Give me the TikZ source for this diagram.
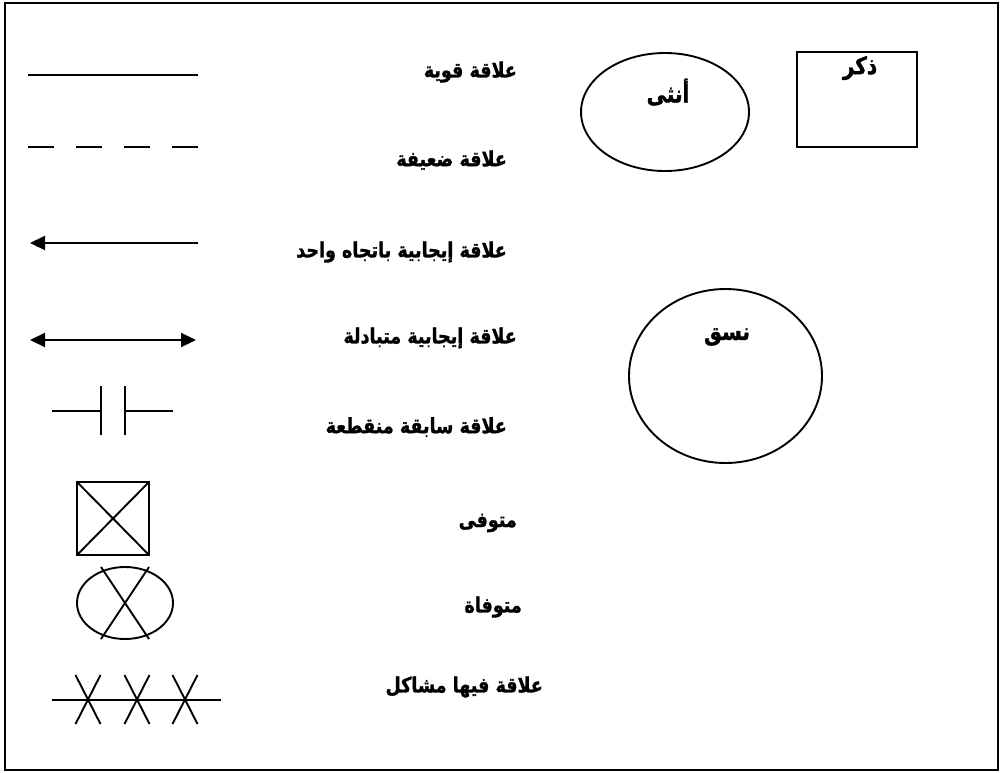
\documentclass[tikz,border=0pt]{standalone}
\usepackage{fontspec}
\usetikzlibrary{arrows.meta}
\TeXXeTstate=1
\newfontfamily\arabicfont[Script=Arabic,FakeBold=1.5]{DejaVu Sans Bold}
\newcommand{\artxt}[1]{\scalebox{1}[1.2]{\beginR #1\endR}}
\begin{document}
\begin{tikzpicture}[x=1pt,y=-1pt,
  ln/.style={line width=2.2pt},
  shp/.style={line width=1.9pt},
  lbl/.style={anchor=east,inner sep=0pt,font=\arabicfont\fontsize{17.5}{20}\selectfont},
  ctr/.style={inner sep=0pt,font=\arabicfont\fontsize{20}{22}\selectfont},
  tip/.style={-{Triangle[length=15pt,width=14pt]}}
]
\useasboundingbox (0,0) rectangle (1004,772);
\draw[line width=2.4pt] (5,3) rectangle (998,770);

% solid
\coordinate (s1) at (28,75); \coordinate (s2) at (198,75);
\draw[ln] (s1) -- (s2);
\node[lbl] (t1) at (517,72) {\artxt{علاقة قوية}};

% dashed
\coordinate (d1) at (28,147); \coordinate (d2) at (198,147);
\draw[ln,dash pattern=on 26pt off 22pt] (d1) -- (d2);
\node[lbl] (t2) at (507,160) {\artxt{علاقة ضعيفة}};

% one-way arrow
\coordinate (a1) at (198,243); \coordinate (a2) at (30,243);
\draw[ln,tip] (a1) -- (a2);
\node[lbl] (t3) at (507,252) {\artxt{علاقة إيجابية باتجاه واحد}};

% two-way arrow
\coordinate (b1) at (30,340); \coordinate (b2) at (196,340);
\draw[ln,{Triangle[length=15pt,width=14pt]}-{Triangle[length=15pt,width=14pt]}] (b1) -- (b2);
\node[lbl] (t4) at (517,338) {\artxt{علاقة إيجابية متبادلة}};

% broken
\coordinate (c1) at (52,411); \coordinate (c2) at (101,411);
\coordinate (c3) at (125,411); \coordinate (c4) at (173,411);
\draw[shp] (c1) -- (c2) (101,386) -- (101,435) (125,386) -- (125,435) (c3) -- (c4);
\node[lbl] (t5) at (507,427) {\artxt{علاقة سابقة منقطعة}};

% deceased male
\draw[shp] (77,482) rectangle (149,555) (77,482) -- (149,555) (149,482) -- (77,555);
\node[lbl] (t6) at (517,523) {\artxt{متوفى}};

% deceased female
\draw[shp] (125,603) ellipse [x radius=48, y radius=36];
\draw[shp] (101,567) -- (149,639) (149,567) -- (101,639);
\node[lbl] (t7) at (522,607) {\artxt{متوفاة}};

% problem relation
\coordinate (p1) at (52,700); \coordinate (p2) at (221,700);
\draw[shp] (p1) -- (p2);
\foreach \cx in {88,137,185}{
  \draw[shp] (\cx-12.5,675) -- (\cx+12.5,724) (\cx+12.5,675) -- (\cx-12.5,724);
}
\node[lbl] (t8) at (543,687) {\artxt{علاقة فيها مشاكل}};

% female
\draw[shp] (665,112) ellipse [x radius=84, y radius=59];
\node[ctr] (f) at (668,92) {\artxt{أنثى}};

% male
\draw[shp] (797,52) rectangle (917,147);
\node[ctr] (m) at (860,68) {\artxt{ذكر}};

% system
\draw[shp] (725.5,376) ellipse [x radius=96.5, y radius=87];
\node[ctr] (n) at (727,337) {\artxt{نسق}};
\end{tikzpicture}
\end{document}
